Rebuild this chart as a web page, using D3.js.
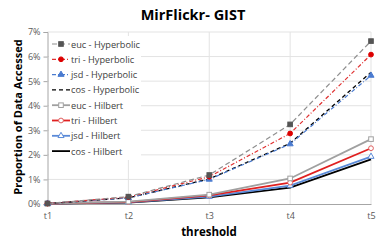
<!DOCTYPE html>
<html><head><meta charset="utf-8">
<script src="https://cdn.jsdelivr.net/npm/d3@7"></script>
<style>body{margin:0;background:#fff}svg{display:block}text{font-family:"Open Sans","Liberation Sans",sans-serif}</style>
</head><body><svg id="c" width="389" height="248"></svg>
<script>
const categories = ["t1","t2","t3","t4","t5"];
const yTicks = [0,1,2,3,4,5,6,7];
const eucHyp = [0.02,0.30,1.18,3.24,6.63];
const triHyp = [0.02,0.28,1.11,2.87,6.08];
const jsdHyp = [0.02,0.25,1.00,2.44,5.23];
const cosHyp = [0.02,0.25,1.02,2.47,5.36];
const eucHil = [0.02,0.10,0.38,1.04,2.64];
const triHil = [0.02,0.08,0.35,0.87,2.27];
const jsdHil = [0.02,0.07,0.30,0.75,1.93];
const cosHil = [0.02,0.06,0.27,0.67,1.82];

const series = [
 {name:"euc - Hyperbolic", v:eucHyp, color:"#8f8f8f", mcolor:"#555555", dash:"5,3", marker:"square", fill:"#555555", w:1.2},
 {name:"tri - Hyperbolic", v:triHyp, color:"#e03030", mcolor:"#dd0000", dash:"4,2,1,2", marker:"circle", fill:"#dd0000", w:1.2},
 {name:"jsd - Hyperbolic", v:jsdHyp, color:"#4a7bd0", mcolor:"#4a7bd0", dash:"4,2,1,2", marker:"triangle", fill:"#4a7bd0", w:1.2},
 {name:"cos - Hyperbolic", v:cosHyp, color:"#000000", dash:"4,3", marker:null, w:1.3},
 {name:"euc - Hilbert", v:eucHil, color:"#a0a0a0", mcolor:"#a0a0a0", dash:null, marker:"square", fill:"#fff", w:1.8},
 {name:"tri - Hilbert", v:triHil, color:"#e02020", mcolor:"#e06060", dash:null, marker:"circle", fill:"#fff", w:1.8},
 {name:"jsd - Hilbert", v:jsdHil, color:"#5a8ad8", mcolor:"#5a8ad8", dash:null, marker:"triangle", fill:"#fff", w:1.8},
 {name:"cos - Hilbert", v:cosHil, color:"#000000", dash:null, marker:null, w:1.8}
];

const svg = d3.select("#c");
const x = d3.scalePoint().domain(categories).range([47.5, 371]);
const y = d3.scaleLinear().domain([0,7]).range([204, 32]);

// grid
svg.append("g").selectAll("line.h").data(yTicks.slice(1)).join("line")
 .attr("x1",47.5).attr("x2",371).attr("y1",d=>y(d)).attr("y2",d=>y(d))
 .attr("stroke","#e3e3e3").attr("stroke-width",1);
svg.append("g").selectAll("line.v").data(categories.slice(1)).join("line")
 .attr("x1",d=>x(d)).attr("x2",d=>x(d)).attr("y1",y(7)).attr("y2",y(0))
 .attr("stroke","#e3e3e3").attr("stroke-width",1);

// axes
const yAxis = d3.axisLeft(y).tickValues(yTicks).tickFormat(d=>d+"%").tickSize(4).tickPadding(3);
const gy = svg.append("g").attr("transform","translate(47.5,0)").call(yAxis);
gy.select(".domain").attr("stroke","#a6a6a6");
gy.selectAll(".tick line").attr("stroke","#a6a6a6");
gy.selectAll("text").attr("font-size",9).attr("fill","#595959");
const xAxis = d3.axisBottom(x).tickSize(0).tickPadding(9);
const gx = svg.append("g").attr("transform","translate(0,204)").call(xAxis);
gx.select(".domain").attr("stroke","#a6a6a6");
gx.selectAll("text").attr("font-size",9).attr("fill","#595959");

// titles
svg.append("text").attr("x",193).attr("y",20).attr("text-anchor","middle")
 .attr("font-size",14.5).attr("font-weight","bold").attr("fill","#000").text("MirFlickr- GIST");
svg.append("text").attr("x",209).attr("y",236).attr("text-anchor","middle")
 .attr("font-size",11.5).attr("font-weight","bold").text("threshold");
svg.append("text").attr("transform","translate(22,117) rotate(-90)").attr("text-anchor","middle")
 .attr("font-size",11).attr("font-weight","bold").text("Proportion of Data Accessed");

function drawMarker(g, type, cx, cy, s){
  if(!type) return;
  const sz = 4.6;
  if(type==="square") g.append("rect").attr("x",cx-sz/2).attr("y",cy-sz/2).attr("width",sz).attr("height",sz)
    .attr("fill",s.fill).attr("stroke",s.mcolor).attr("stroke-width",1);
  else if(type==="circle") g.append("circle").attr("cx",cx).attr("cy",cy).attr("r",2.4)
    .attr("fill",s.fill).attr("stroke",s.mcolor).attr("stroke-width",1);
  else g.append("path").attr("d",d3.symbol(d3.symbolTriangle,16)()).attr("transform",`translate(${cx},${cy})`)
    .attr("fill",s.fill).attr("stroke",s.mcolor).attr("stroke-width",1);
}

const line = d3.line().x((d,i)=>x(categories[i])).y(d=>y(d));
[...series].reverse().forEach(s=>{
  const g = svg.append("g");
  g.append("path").attr("d",line(s.v)).attr("fill","none").attr("stroke",s.color)
   .attr("stroke-width",s.w).attr("stroke-dasharray",s.dash);
  s.v.forEach((v,i)=>drawMarker(g,s.marker,x(categories[i]),y(v),s));
});

// legend
const lg = svg.append("g");
lg.append("rect").attr("x",49).attr("y",36).attr("width",92).attr("height",124).attr("fill","#fff");
series.forEach((s,i)=>{
  const yy = 44 + i*15.3;
  const g = lg.append("g");
  g.append("line").attr("x1",52).attr("x2",70).attr("y1",yy).attr("y2",yy)
   .attr("stroke",s.color).attr("stroke-width",s.w).attr("stroke-dasharray",s.dash);
  drawMarker(g,s.marker,61,yy,s);
  g.append("text").attr("x",71).attr("y",yy+3.5).attr("font-size",9.2).attr("fill","#404040").text(s.name);
});
</script></body></html>
